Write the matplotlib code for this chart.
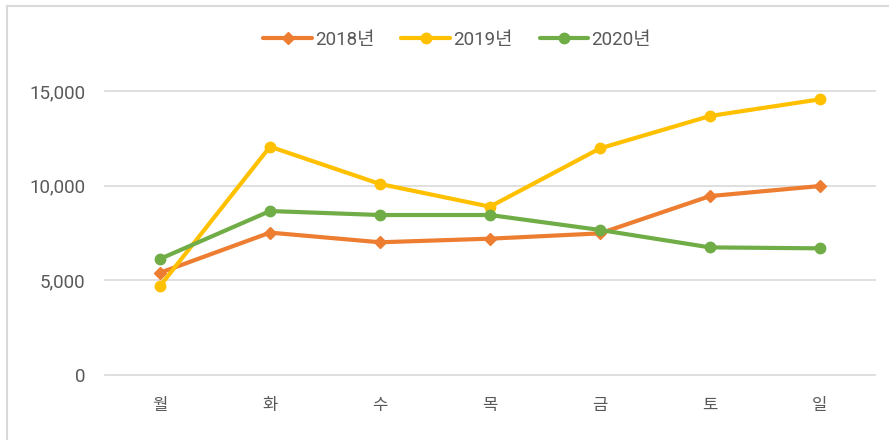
import matplotlib.pyplot as plt
from matplotlib.lines import Line2D
from matplotlib.ticker import FuncFormatter

plt.rcParams['font.family'] = ['Roboto', 'Noto Sans CJK KR', 'DejaVu Sans']

days = ['월', '화', '수', '목', '금', '토', '일']
series_names = ['2018년', '2019년', '2020년']
values_2018 = [5400, 7520, 7010, 7200, 7480, 9450, 9980]
values_2019 = [4700, 12060, 10090, 8890, 11970, 13680, 14560]
values_2020 = [6130, 8660, 8450, 8450, 7660, 6740, 6690]
y_ticks = [0, 5000, 10000, 15000]

colors = ['#ED7D31', '#FFC000', '#70AD47']
markers = ['D', 'o', 'o']
msizes = [6.5, 7.5, 7.5]

fig = plt.figure(figsize=(8.89, 4.4), dpi=100)
ax = fig.add_axes([105 / 889, 1 - 375 / 440, 770 / 889, 284 / 440])

x = range(len(days))
for vals, name, c, m, ms in zip([values_2018, values_2019, values_2020],
                                series_names, colors, markers, msizes):
    ax.plot(x, vals, color=c, lw=3, marker=m, markersize=ms, label=name,
            solid_capstyle='round', zorder=3, clip_on=False)

ax.set_xlim(-0.5, len(days) - 0.5)
ax.set_ylim(0, 15000)
ax.set_yticks(y_ticks)
ax.yaxis.set_major_formatter(FuncFormatter(lambda v, p: f'{int(v):,}'))
ax.set_xticks(list(x))
ax.set_xticklabels(days, family=['Noto Sans CJK KR'], fontsize=12)
ax.grid(axis='y', color='#d9d9d9', lw=1.2)
for gl in ax.get_ygridlines():
    gl.set_clip_on(False)
ax.set_axisbelow(True)
for s in ax.spines.values():
    s.set_visible(False)
ax.tick_params(axis='both', length=0, colors='#595959')
ax.tick_params(axis='y', pad=14, labelsize=13.5)
ax.tick_params(axis='x', pad=16)

# chart frame (left and top edges visible)
fig.add_artist(Line2D([7 / 889, 7 / 889], [0, 1 - 6 / 440], color='#d9d9d9', lw=1.5))
fig.add_artist(Line2D([7 / 889, 1], [1 - 6 / 440, 1 - 6 / 440], color='#d9d9d9', lw=1.5))

fig.legend(loc='center', bbox_to_anchor=(457 / 889, 1 - 40 / 440), ncol=3,
           frameon=False, fontsize=13.5, handlelength=2.6, handletextpad=0.15,
           columnspacing=1.45, labelcolor='#595959')

fig.savefig('out.png', dpi=100)
